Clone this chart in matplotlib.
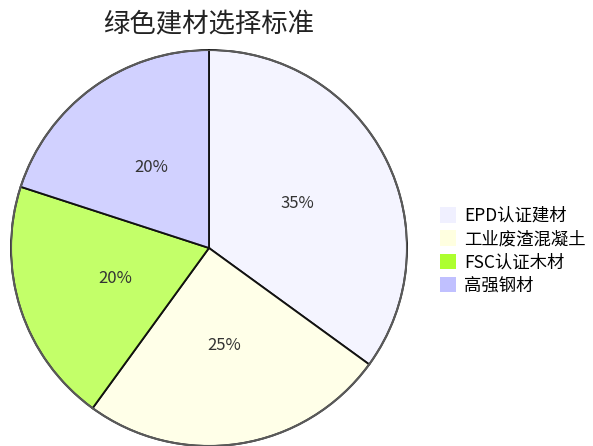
import matplotlib
matplotlib.use('Agg')
import matplotlib.pyplot as plt
from matplotlib.colors import to_rgba
from matplotlib.patches import Patch, Circle

plt.rcParams['font.family'] = ['Noto Sans CJK SC', 'DejaVu Sans']

# Data
labels = ['EPD认证建材', '工业废渣混凝土', 'FSC认证木材', '高强钢材']
shares = [35, 25, 20, 20]
colors = ['#F0F0FF', '#FFFFE0', '#ADFF2F', '#C0C0FF']
title = '绿色建材选择标准'

W, H = 593, 446
fig = plt.figure(figsize=(W / 100, H / 100), dpi=100)

# pie axes: centre (209, 248) px, radius 198 px
cx, cy, r = 209, 248, 198
ax = fig.add_axes([(cx - r) / W, (H - cy - r) / H, 2 * r / W, 2 * r / H])

slice_colors = [to_rgba(c, 0.72) for c in colors]
wedges, texts, autotexts = ax.pie(
    shares, colors=slice_colors, startangle=90, counterclock=False,
    radius=1, autopct='%d%%', pctdistance=0.5,
    wedgeprops=dict(edgecolor='#111111', linewidth=1.3),
    textprops=dict(fontsize=12, color='#333333'))
# grey outer rim
ax.add_patch(Circle((0, 0), 1, fill=False, edgecolor='#5a5a5a', linewidth=1.5))
ax.set_xlim(-1, 1)
ax.set_ylim(-1, 1)
ax.set_aspect('auto')
ax.axis('off')

fig.text(209 / W, 1 - 25 / H, title, ha='center', va='center',
         fontsize=19, color='#222222')

handles = [Patch(facecolor=c, edgecolor='none') for c in colors]
fig.legend(handles, labels, loc='upper left',
           bbox_to_anchor=(426 / W, 1 - 193 / H), frameon=False,
           fontsize=12.5, handlelength=0.9, handleheight=1.0,
           handletextpad=0.5, labelspacing=0.3, borderpad=0.3)

fig.savefig('out.png', dpi=100)
